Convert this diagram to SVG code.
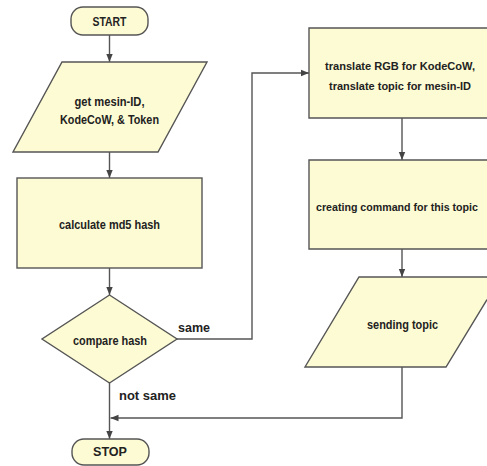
<svg xmlns="http://www.w3.org/2000/svg" width="487" height="466" viewBox="0 0 487 466">
<defs>
<marker id="ah" viewBox="0 0 10 10" refX="10" refY="5" markerWidth="8" markerHeight="8" markerUnits="userSpaceOnUse" orient="auto">
<path d="M0,1 L10,5 L0,9 Z" fill="#444"/>
</marker>
</defs>
<style>
.s{fill:#fdfbd3;stroke:#555;stroke-width:1.4}
.f{fill:#fdfbd3;stroke:none}
.t{font-family:"Liberation Sans Narrow","Liberation Sans",Arial,sans-serif;font-weight:bold;font-size:12.5px;fill:#222;text-anchor:middle}
.r{font-size:11.5px}
.q{font-size:10.8px}
.l{font-family:"Liberation Sans Narrow","Liberation Sans",Arial,sans-serif;font-weight:bold;font-size:12.5px;fill:#222}
.c{fill:none;stroke:#555;stroke-width:1.4}
</style>
<rect width="487" height="466" fill="#fff"/>
<g id="connectors">
<path class="c" d="M109.5,35 V62" marker-end="url(#ah)"/>
<path class="c" d="M109.5,152 V178" marker-end="url(#ah)"/>
<path class="c" d="M109.5,268 V295" marker-end="url(#ah)"/>
<path class="c" d="M177,339 H252 V73 H309" marker-end="url(#ah)"/>
<path class="c" d="M402,118 V160" marker-end="url(#ah)"/>
<path class="c" d="M402,249 V277" marker-end="url(#ah)"/>
<path class="c" d="M402,367 V418 H110.5" marker-end="url(#ah)"/>
<path class="c" d="M109.5,383 V439" marker-end="url(#ah)"/>
<text class="l" x="178" y="332" textLength="32" lengthAdjust="spacingAndGlyphs">same</text>
<text class="l" x="119" y="400" textLength="57" lengthAdjust="spacingAndGlyphs">not same</text>
</g>
<g id="start">
<rect class="s" x="71" y="7" width="77" height="28" rx="12"/>
<text class="t" x="109.5" y="25.5" textLength="34" lengthAdjust="spacingAndGlyphs">START</text>
</g>
<g id="get-input">
<polygon class="s" points="62,62 207,62 158,152 13,152"/>
<text class="t" x="109.5" y="106" textLength="70" lengthAdjust="spacingAndGlyphs">get mesin-ID,</text>
<text class="t" x="109.5" y="124" textLength="99" lengthAdjust="spacingAndGlyphs">KodeCoW, &amp; Token</text>
</g>
<g id="calc-md5">
<rect class="s" x="17" y="178" width="185" height="90"/>
<text class="t" x="109.5" y="229" textLength="101" lengthAdjust="spacingAndGlyphs">calculate md5 hash</text>
</g>
<g id="compare">
<polygon class="s" points="109.5,295 177,339 109.5,383 42,339"/>
<text class="t" x="110" y="345" textLength="74" lengthAdjust="spacingAndGlyphs">compare hash</text>
</g>
<g id="stop">
<rect class="s" x="72" y="439" width="77" height="26" rx="12"/>
<text class="t" x="110" y="456" textLength="34" lengthAdjust="spacingAndGlyphs">STOP</text>
</g>
<g id="translate">
<rect class="f" x="309" y="28" width="178" height="90"/>
<polyline class="c" points="487,28 309,28 309,118 487,118"/>
<text class="t r" x="400" y="70" textLength="150" lengthAdjust="spacingAndGlyphs">translate  RGB for KodeCoW,</text>
<text class="t r" x="400" y="90" textLength="142" lengthAdjust="spacingAndGlyphs">translate topic for mesin-ID</text>
</g>
<g id="creating">
<rect class="f" x="309" y="160" width="178" height="89"/>
<polyline class="c" points="487,160 309,160 309,249 487,249"/>
<text class="t q" x="397" y="211" textLength="162" lengthAdjust="spacingAndGlyphs">creating command for this topic</text>
</g>
<g id="sending">
<polygon class="f" points="359,277 487,277 487,299.6 446,367 305,367"/>
<polyline class="c" points="487,277 359,277 305,367 446,367 487,299.6"/>
<text class="t" x="402.5" y="329" textLength="71" lengthAdjust="spacingAndGlyphs">sending topic</text>
</g>
</svg>
